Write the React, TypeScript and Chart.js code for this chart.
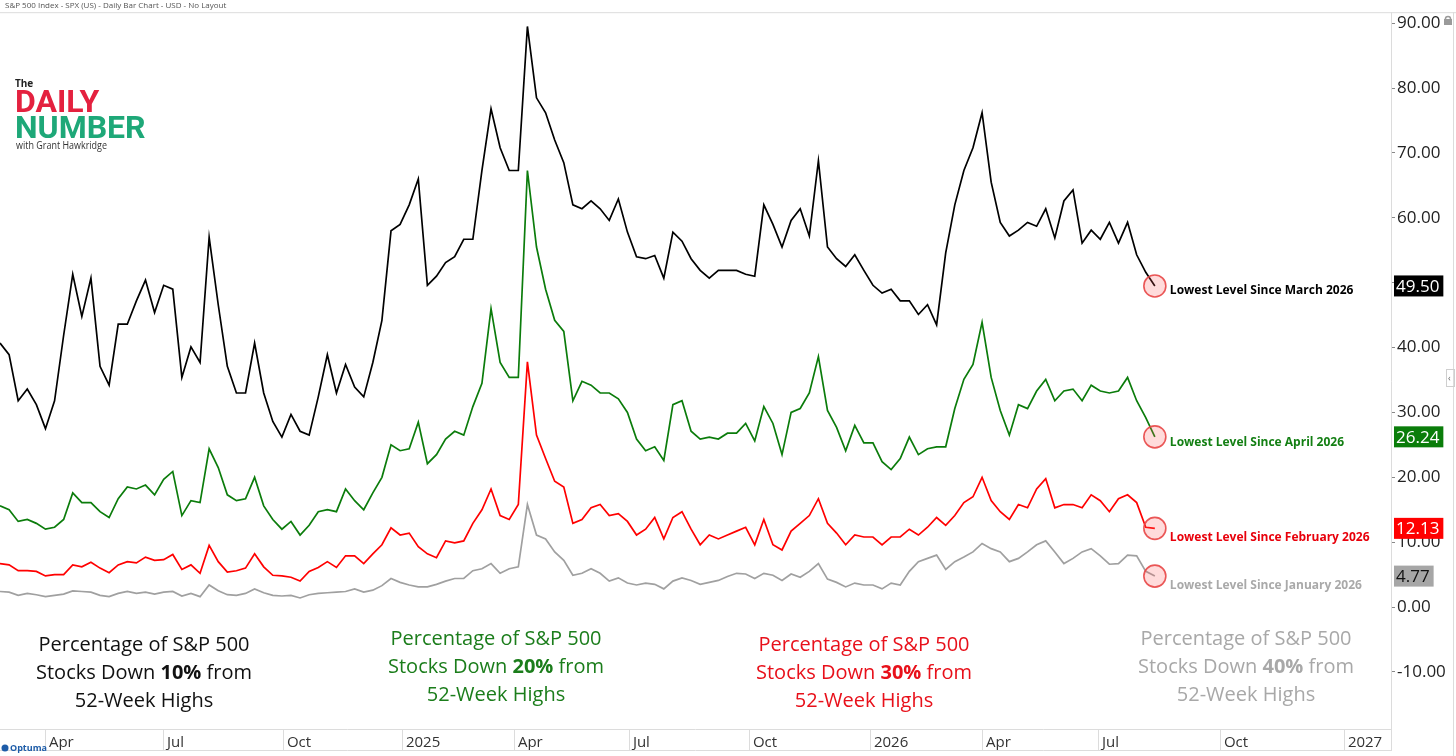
import React, { useEffect, useRef } from 'react';
import { Chart, registerables } from 'chart.js';

Chart.register(...registerables);

const FONT = "'Open Sans', sans-serif";

// weekly samples, Feb 2024 -> Aug 2026 (x = week index on the bar scale)
const DOWN_10 = [
  40.7, 38.9, 31.8, 33.6, 31.2, 27.5, 31.8, 41.9,
  51.3, 44.8, 50.7, 37.1, 34.2, 43.6, 43.6, 47.2,
  50.4, 45.4, 49.6, 49.0, 35.4, 40.1, 37.7, 57.0,
  46.6, 37.1, 33.0, 33.0, 40.7, 33.0, 28.6, 26.2,
  29.7, 27.1, 26.5, 32.4, 38.9, 33.0, 37.4, 33.9,
  32.4, 37.7, 44.2, 58.0, 59.0, 62.0, 66.0, 49.6,
  51.0, 53.1, 54.0, 56.7, 56.7, 67.3, 76.8, 70.8,
  67.3, 67.3, 89.5, 78.5, 76.2, 72.0, 68.5, 62.0,
  61.4, 62.6, 61.4, 59.6, 62.9, 57.8, 54.0, 53.7,
  54.2, 50.7, 57.8, 56.4, 53.7, 51.9, 50.7, 51.9,
  51.9, 51.9, 51.3, 51.0, 62.0, 59.0, 55.5, 59.6,
  61.4, 57.2, 68.8, 55.5, 53.7, 52.5, 54.3, 51.9,
  49.6, 48.4, 49.0, 47.2, 47.2, 45.1, 46.6, 43.5,
  54.6, 62.0, 67.3, 70.8, 76.2, 65.5, 59.3, 57.2,
  58.1, 59.3, 58.7, 61.4, 56.9, 62.6, 64.3, 56.1,
  58.1, 56.7, 59.3, 56.1, 59.3, 54.3, 51.6, 49.5,
];

const DOWN_20 = [
  15.6, 15.0, 13.2, 13.5, 12.9, 12.0, 12.3, 13.5,
  17.6, 16.1, 16.1, 14.7, 13.8, 16.7, 18.5, 18.2,
  18.8, 17.3, 19.7, 20.9, 14.1, 16.4, 16.1, 24.4,
  21.5, 17.3, 16.4, 16.7, 20.0, 15.6, 13.5, 12.0,
  13.2, 11.1, 12.6, 14.7, 15.0, 14.7, 18.2, 16.4,
  15.0, 17.6, 20.0, 25.0, 24.1, 24.4, 28.5, 22.1,
  23.5, 25.9, 27.1, 26.5, 30.9, 34.5, 46.0, 37.7,
  35.4, 35.4, 67.3, 55.5, 49.0, 44.2, 42.5, 31.8,
  34.8, 34.2, 33.0, 33.0, 32.1, 30.0, 25.9, 24.1,
  24.7, 22.6, 31.2, 31.8, 27.1, 25.9, 26.2, 25.9,
  26.8, 26.8, 28.3, 25.6, 30.9, 28.3, 23.5, 30.0,
  30.6, 33.0, 38.6, 30.3, 27.7, 24.1, 28.0, 25.3,
  25.3, 22.4, 21.2, 22.9, 26.2, 23.5, 24.4, 24.7,
  24.7, 30.6, 35.1, 37.4, 43.9, 35.4, 30.3, 26.5,
  31.2, 30.6, 33.3, 35.1, 31.8, 33.3, 33.6, 31.8,
  34.2, 33.3, 33.0, 33.3, 35.4, 31.8, 29.2, 26.24,
];

const DOWN_30 = [
  6.7, 6.5, 5.6, 5.6, 5.5, 4.8, 5.0, 5.0,
  6.5, 6.2, 6.9, 6.0, 5.3, 6.5, 7.0, 6.8,
  7.7, 7.2, 7.3, 8.1, 5.8, 6.5, 5.2, 9.5,
  7.0, 5.4, 5.6, 6.0, 8.2, 6.2, 4.9, 4.8,
  4.6, 4.0, 5.5, 6.1, 7.0, 6.1, 7.9, 7.9,
  6.7, 8.2, 9.6, 12.2, 11.1, 11.4, 9.3, 8.2,
  7.6, 10.2, 9.9, 10.2, 12.9, 15.0, 18.2, 14.1,
  13.5, 15.8, 37.8, 26.5, 22.9, 19.4, 18.5, 12.9,
  13.5, 15.3, 15.8, 14.1, 14.4, 13.2, 11.1, 12.0,
  13.8, 10.5, 13.8, 14.7, 12.0, 9.6, 11.1, 10.5,
  11.1, 11.7, 12.3, 9.6, 13.5, 9.6, 8.8, 11.7,
  12.9, 14.1, 16.7, 12.9, 11.4, 9.6, 11.1, 10.8,
  10.8, 9.6, 10.8, 10.8, 12.0, 11.1, 12.3, 13.8,
  12.6, 14.1, 16.1, 17.0, 20.0, 16.4, 14.7, 13.5,
  15.8, 15.3, 18.2, 19.8, 15.3, 15.8, 15.8, 15.3,
  17.3, 16.4, 14.7, 16.7, 17.3, 16.1, 12.3, 12.13,
];

const DOWN_40 = [
  2.4, 2.3, 1.8, 2.1, 1.9, 1.6, 1.8, 2.0,
  2.5, 2.4, 2.3, 1.8, 1.6, 2.1, 2.4, 2.1,
  2.3, 2.0, 2.3, 2.4, 1.7, 2.1, 1.6, 3.4,
  2.5, 1.9, 1.8, 2.1, 2.8, 2.2, 1.8, 1.7,
  1.8, 1.4, 1.9, 2.1, 2.2, 2.3, 2.4, 2.8,
  2.3, 2.6, 3.3, 4.4, 3.8, 3.4, 3.1, 3.1,
  3.5, 4.0, 4.4, 4.4, 5.6, 5.9, 6.7, 5.2,
  5.9, 6.2, 15.8, 11.1, 10.5, 8.5, 7.2, 4.9,
  5.2, 5.9, 5.2, 4.0, 4.5, 3.7, 3.4, 3.7,
  3.5, 2.8, 4.0, 4.5, 4.1, 3.5, 3.8, 4.1,
  4.7, 5.2, 5.1, 4.4, 5.2, 4.9, 4.1, 5.1,
  4.6, 5.5, 6.7, 4.3, 3.8, 3.1, 3.7, 3.4,
  3.4, 2.8, 3.7, 3.4, 5.5, 7.0, 7.5, 8.0,
  5.8, 7.0, 7.7, 8.5, 9.8, 9.0, 8.5, 7.0,
  7.5, 8.5, 9.6, 10.2, 8.5, 6.7, 7.5, 8.5,
  9.0, 7.9, 6.6, 6.7, 8.0, 7.9, 5.5, 4.77,
];

// quarter starts on the bar (week) scale and their labels
const X_TICKS = [4.95, 17.93, 31.12, 44.21, 56.53, 69.17, 82.37, 95.68, 108.0, 120.75, 134.17, 147.8];
const X_LABELS = ['Apr', 'Jul', 'Oct', '2025', 'Apr', 'Jul', 'Oct', '2026', 'Apr', 'Jul', 'Oct', '2027'];
const Y_TICKS = [-10, 0, 10, 20, 30, 40, 50, 60, 70, 80, 90];

const SERIES_PCT = ['10%', '20%', '30%', '40%'];
const NOTES = [
  'Lowest Level Since March 2026',
  'Lowest Level Since April 2026',
  'Lowest Level Since February 2026',
  'Lowest Level Since January 2026',
];

const HEADER = 'S&P 500 Index - SPX (US) - Daily Bar Chart - USD - No Layout';

const STYLES = [
  { line: '#000000', note: '#000000', tag: '#000000', tagText: '#ffffff', caption: '#111111', noteDy: 5, capX: 144, capY: 645 },
  { line: '#0b7c0b', note: '#137f13', tag: '#0a7d0a', tagText: '#ffffff', caption: '#1b7d1b', noteDy: 6, capX: 496, capY: 639 },
  { line: '#ff0000', note: '#e8000b', tag: '#ff0000', tagText: '#ffffff', caption: '#e8101a', noteDy: 9, capX: 864, capY: 645 },
  { line: '#a0a0a0', note: '#a9a9a9', tag: '#a6a6a6', tagText: '#111111', caption: '#a8a8a8', noteDy: 9, capX: 1246, capY: 639 },
];

const SERIES = [DOWN_10, DOWN_20, DOWN_30, DOWN_40];

function hline(ctx: CanvasRenderingContext2D, x1: number, y1: number, x2: number, y2: number) {
  ctx.beginPath();
  ctx.moveTo(x1, y1);
  ctx.lineTo(x2, y2);
  ctx.stroke();
}

const overlay = {
  id: 'overlay',
  afterDraw(chart: any) {
    const { ctx, chartArea: area, scales } = chart;
    const xs = scales.x;
    const ys = scales.y;
    const W = chart.width;
    ctx.save();

    // header + frame
    ctx.fillStyle = '#555';
    ctx.font = `8px ${FONT}`;
    ctx.textAlign = 'left';
    ctx.textBaseline = 'middle';
    ctx.fillText(HEADER, 5, 6);

    ctx.strokeStyle = '#dcdcdc';
    ctx.lineWidth = 1;
    hline(ctx, 0, area.top + 0.5, W, area.top + 0.5);
    hline(ctx, area.right + 0.5, area.top, area.right + 0.5, 751);
    hline(ctx, 0, area.bottom + 0.5, area.right, area.bottom + 0.5);
    hline(ctx, 0, 750.5, area.right, 750.5);
    hline(ctx, W - 2.5, area.top, W - 2.5, 756);
    X_TICKS.forEach((v) => {
      const px = Math.round(xs.getPixelForValue(v)) + 0.5;
      hline(ctx, px, area.bottom, px, 750);
    });

    // lock + side tab
    ctx.fillStyle = '#9a9a9a';
    ctx.fillRect(1444, 19, 8, 6);
    ctx.strokeStyle = '#9a9a9a';
    ctx.lineWidth = 1.5;
    ctx.beginPath();
    ctx.arc(1448, 19, 2.6, Math.PI, 0);
    ctx.stroke();
    ctx.strokeStyle = '#cfcfcf';
    ctx.lineWidth = 1;
    ctx.strokeRect(1446.5, 369.5, 8, 17);
    ctx.fillStyle = '#666';
    ctx.font = `9px ${FONT}`;
    ctx.fillText('‹', 1448, 378);

    // logo
    ctx.textBaseline = 'alphabetic';
    ctx.fillStyle = '#222';
    ctx.font = `bold 10px ${FONT}`;
    ctx.fillText('The', 15, 87);
    ctx.fillStyle = '#e4213f';
    ctx.font = 'bold 32px Roboto';
    ctx.fillText('DAILY', 15, 112, 91);
    ctx.fillStyle = '#1ea878';
    ctx.fillText('NUMBER', 15, 138, 133);
    ctx.fillStyle = '#333';
    ctx.font = `10px ${FONT}`;
    ctx.fillText('with Grant Hawkridge', 16, 149, 91);

    // Optuma mark
    ctx.fillStyle = '#1d5ca8';
    ctx.beginPath();
    ctx.arc(5, 748, 3.5, 0, Math.PI * 2);
    ctx.fill();
    ctx.font = `bold 9px ${FONT}`;
    ctx.fillText('Optuma', 10, 751);

    // last-value markers, notes and axis tags
    SERIES.forEach((vals, k) => {
      const st = STYLES[k];
      const i = vals.length - 1;
      const px = xs.getPixelForValue(i);
      const py = ys.getPixelForValue(vals[i]);

      ctx.beginPath();
      ctx.arc(px, py, 11, 0, Math.PI * 2);
      ctx.fillStyle = 'rgba(255, 90, 90, 0.22)';
      ctx.fill();
      ctx.strokeStyle = 'rgba(232, 70, 70, 0.9)';
      ctx.lineWidth = 1.6;
      ctx.stroke();

      ctx.font = `bold 12px ${FONT}`;
      ctx.textAlign = 'left';
      ctx.textBaseline = 'middle';
      ctx.fillStyle = st.note;
      ctx.fillText(NOTES[k], px + 15, py + st.noteDy);

      const txt = vals[i].toFixed(2);
      ctx.font = `17px ${FONT}`;
      const tw = ctx.measureText(txt).width;
      ctx.fillStyle = st.tag;
      ctx.fillRect(area.right + 3, py - 10.5, tw + 6, 21);
      ctx.fillStyle = st.tagText;
      ctx.fillText(txt, area.right + 5, py + 1);
    });

    // captions
    ctx.textBaseline = 'middle';
    STYLES.forEach((st, k) => {
      ctx.fillStyle = st.caption;
      ctx.textAlign = 'center';
      ctx.font = `20px ${FONT}`;
      ctx.fillText('Percentage of S&P 500', st.capX, st.capY);
      ctx.fillText('52-Week Highs', st.capX, st.capY + 56);

      const a = 'Stocks Down ';
      const b = SERIES_PCT[k];
      const c = ' from';
      ctx.font = `20px ${FONT}`;
      const wa = ctx.measureText(a).width;
      const wc = ctx.measureText(c).width;
      ctx.font = `bold 20px ${FONT}`;
      const wb = ctx.measureText(b).width;
      let x = st.capX - (wa + wb + wc) / 2;
      const y = st.capY + 28;
      ctx.textAlign = 'left';
      ctx.font = `20px ${FONT}`;
      ctx.fillText(a, x, y);
      x += wa;
      ctx.font = `bold 20px ${FONT}`;
      ctx.fillText(b, x, y);
      x += wb;
      ctx.font = `20px ${FONT}`;
      ctx.fillText(c, x, y);
    });

    ctx.restore();
  },
};

const BreadthChart: React.FC = () => {
  const canvasRef = useRef<HTMLCanvasElement>(null);

  useEffect(() => {
    document.body.style.margin = '0';
    const ctx = canvasRef.current!.getContext('2d');

    const datasets = SERIES.map((vals, k) => ({
      label: SERIES_PCT[k],
      data: vals.map((y, i) => ({ x: i, y })),
      borderColor: STYLES[k].line,
      borderWidth: 1.7,
      pointRadius: 0,
      tension: 0,
      fill: false,
    }));

    const chart = new Chart(ctx!, {
      type: 'line',
      data: { datasets },
      options: {
        animation: false,
        responsive: false,
        maintainAspectRatio: false,
        layout: { padding: { top: 12, bottom: 6, left: 0, right: 0 } },
        plugins: {
          legend: { display: false },
          tooltip: { enabled: false },
        },
        scales: {
          x: {
            type: 'linear',
            min: 0,
            max: 152.97,
            grid: { display: false },
            border: { display: false },
            afterBuildTicks: (scale: any) => {
              scale.ticks = X_TICKS.map((value) => ({ value }));
            },
            afterFit: (scale: any) => {
              scale.height = 21;
            },
            ticks: {
              autoSkip: false,
              maxRotation: 0,
              align: 'start',
              padding: -3,
              color: '#333',
              font: { family: FONT, size: 15 },
              callback: (value: any) => {
                const k = X_TICKS.indexOf(value);
                return k >= 0 ? ' ' + X_LABELS[k] : '';
              },
            },
          },
          y: {
            type: 'linear',
            position: 'right',
            min: -18.8,
            max: 91.7,
            grid: { drawOnChartArea: false, drawTicks: true, tickLength: 4, color: '#888' },
            border: { display: false },
            afterBuildTicks: (scale: any) => {
              scale.ticks = Y_TICKS.map((value) => ({ value }));
            },
            afterFit: (scale: any) => {
              scale.width = 65;
            },
            ticks: {
              padding: 2,
              color: '#222',
              font: { family: FONT, size: 17 },
              callback: (value: any) => Number(value).toFixed(2),
            },
          },
        },
      },
      plugins: [overlay],
    });

    return () => {
      chart.destroy();
    };
  }, []);

  return (
    <div style={{ width: 1456, height: 756, background: '#fff' }}>
      <canvas ref={canvasRef} width={1456} height={756} />
    </div>
  );
};

export default function App() {
  return <BreadthChart />;
}
